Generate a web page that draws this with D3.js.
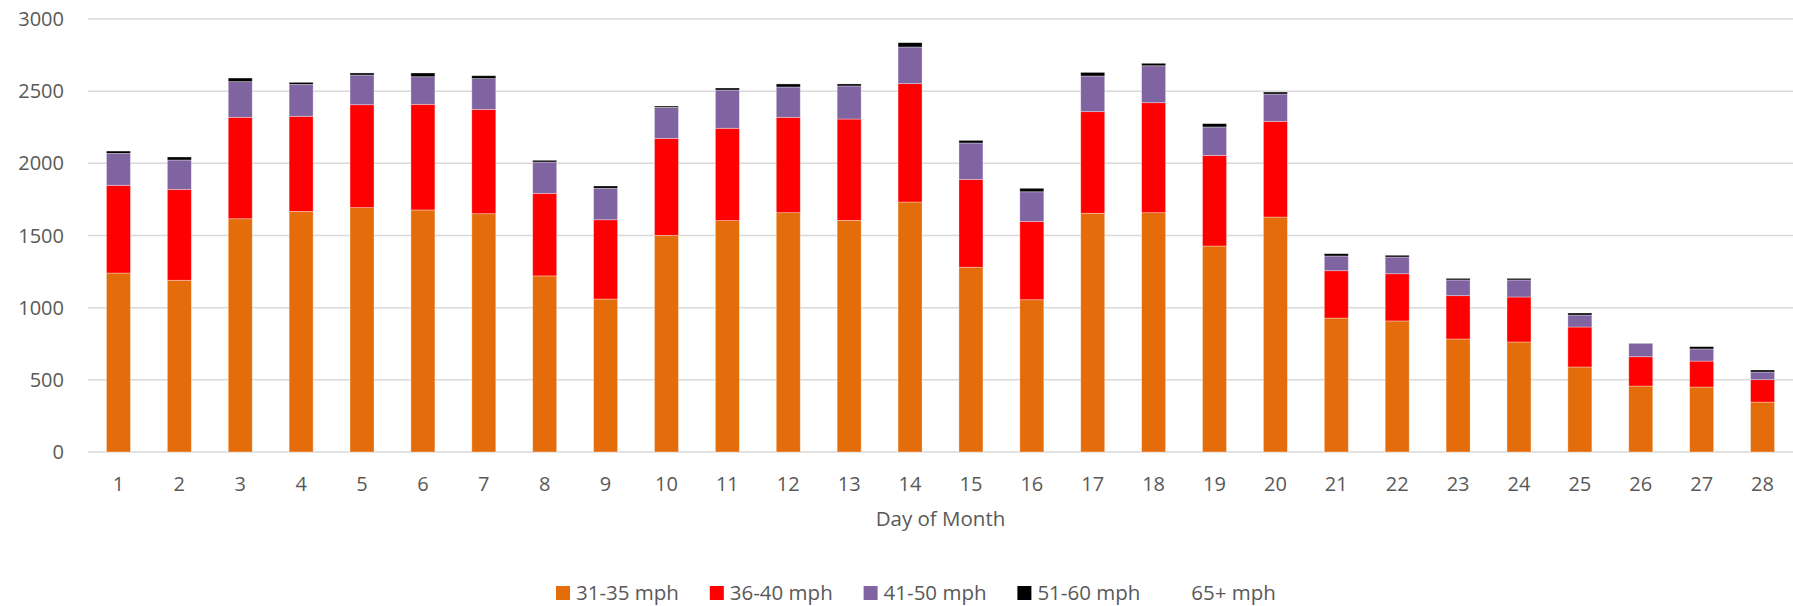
<!DOCTYPE html>
<html>
<head>
<meta charset="utf-8">
<script src="https://cdn.jsdelivr.net/npm/d3@7"></script>
<style>
  body { margin: 0; background: #fff; }
  svg text { font-family: "Open Sans", "Liberation Sans", sans-serif; fill: #595959; }
</style>
</head>
<body>
<div id="chart"></div>
<script>
// Days of the month (x categories)
const days = d3.range(1, 29).map(String);

// Speed bands and their colours
const bands = ["31-35 mph", "36-40 mph", "41-50 mph", "51-60 mph", "65+ mph"];
const colors = ["#E46C0A", "#FF0000", "#8064A2", "#000000", "none"];

// Counts per band
const mph31 = [1240, 1190, 1616, 1667, 1693, 1677, 1651, 1220, 1060, 1501, 1603, 1658, 1605, 1732,
               1280, 1055, 1654, 1658, 1427, 1628, 928, 908, 783, 762, 589, 457, 450, 346];
const mph36 = [608, 630, 703, 659, 713, 732, 723, 572, 549, 672, 640, 661, 702, 820,
               609, 543, 704, 762, 628, 663, 328, 327, 300, 312, 277, 203, 180, 155];
const mph41 = [221, 203, 247, 221, 206, 191, 213, 217, 218, 215, 265, 210, 229, 254,
               252, 205, 247, 256, 197, 189, 102, 116, 109, 118, 83, 93, 84, 53];
const mph51 = [16, 21, 25, 14, 14, 26, 20, 12, 16, 9, 14, 21, 14, 30,
               18, 24, 25, 17, 23, 14, 16, 12, 11, 11, 14, 0, 16, 14];
const mph65 = [0, 0, 0, 0, 0, 0, 0, 0, 0, 0, 0, 0, 0, 0,
               0, 0, 0, 0, 0, 0, 0, 0, 0, 0, 0, 0, 0, 0];

const yTicks = [0, 500, 1000, 1500, 2000, 2500, 3000];

const width = 1793;
const height = 606;
const margin = { top: 19, right: 0, bottom: 154, left: 88 };

// Build rows for the stack
const series = [mph31, mph36, mph41, mph51, mph65];
const rows = days.map((d, i) => {
  const r = { day: d };
  bands.forEach((b, j) => { r[b] = series[j][i]; });
  return r;
});

const stacked = d3.stack().keys(bands)(rows);

const svg = d3.select("#chart").append("svg")
  .attr("width", width)
  .attr("height", height);

const x = d3.scaleBand()
  .domain(days)
  .range([margin.left, width - margin.right])
  .paddingInner(0.606)
  .paddingOuter(0.303);

const y = d3.scaleLinear()
  .domain([0, 3000])
  .range([height - margin.bottom, margin.top]);

// Gridlines
svg.append("g")
  .selectAll("line")
  .data(yTicks)
  .join("line")
  .attr("x1", margin.left)
  .attr("x2", width - margin.right)
  .attr("y1", d => y(d))
  .attr("y2", d => y(d))
  .attr("stroke", "#d9d9d9")
  .attr("stroke-width", 1.5);

// Y tick labels
svg.append("g")
  .selectAll("text")
  .data(yTicks)
  .join("text")
  .attr("x", 64)
  .attr("y", d => y(d))
  .attr("dy", "0.35em")
  .attr("text-anchor", "end")
  .style("font-size", "20px")
  .text(d => d);

// Stacked bars
svg.append("g")
  .selectAll("g")
  .data(stacked)
  .join("g")
  .attr("fill", (d, i) => colors[i])
  .selectAll("rect")
  .data(d => d)
  .join("rect")
  .attr("x", d => x(d.data.day))
  .attr("width", x.bandwidth())
  .attr("y", d => y(d[1]))
  .attr("height", d => y(d[0]) - y(d[1]))
  .attr("stroke", "#fff")
  .attr("stroke-opacity", 0.45)
  .attr("stroke-width", 0.75);

// X tick labels
svg.append("g")
  .selectAll("text")
  .data(days)
  .join("text")
  .attr("x", d => x(d) + x.bandwidth() / 2)
  .attr("y", 484)
  .attr("dy", "0.35em")
  .attr("text-anchor", "middle")
  .style("font-size", "20px")
  .text(d => d);

// Axis title
svg.append("text")
  .attr("x", (margin.left + width - margin.right) / 2)
  .attr("y", 519)
  .attr("dy", "0.35em")
  .attr("text-anchor", "middle")
  .style("font-size", "20.5px")
  .text("Day of Month");

// Legend
const legend = svg.append("g")
  .selectAll("g")
  .data(bands)
  .join("g")
  .attr("transform", (d, i) => `translate(${556 + i * 153.8},593)`);

legend.append("rect")
  .attr("x", 0)
  .attr("y", -7)
  .attr("width", 14)
  .attr("height", 14)
  .attr("fill", (d, i) => colors[i]);

legend.append("text")
  .attr("x", 20)
  .attr("y", 0)
  .attr("dy", "0.35em")
  .style("font-size", "20.5px")
  .text(d => d);
</script>
</body>
</html>
